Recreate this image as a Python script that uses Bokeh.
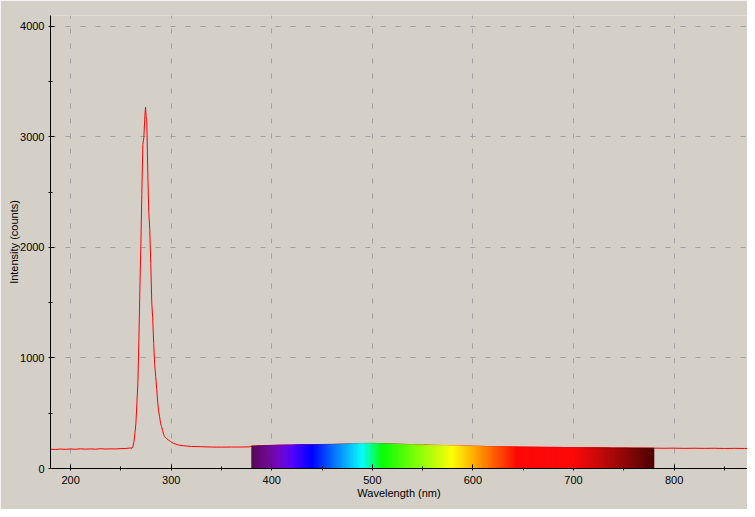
import numpy as np
from bokeh.plotting import figure
from bokeh.models import Range1d, SingleIntervalTicker, ColumnDataSource
from bokeh.embed import file_html
from bokeh.resources import INLINE

# ---- data ----
wavelength = [180, 185, 190, 195, 200, 205, 210, 215, 220, 225, 230, 235, 240, 245, 250, 255, 258, 260,
              261.0, 262.0, 263.0, 263.9, 264.9, 265.9, 266.9, 267.9, 268.9, 269.8, 270.8, 271.8, 272.8,
              273.8, 274.5, 275.2, 275.7, 276.7, 277.7, 278.7, 279.7, 280.7, 281.6, 282.6, 283.6, 284.6,
              285.6, 286.6, 287.5, 288.5, 289.5, 290.5, 291.5, 292.5, 293.4, 295.4, 297.4, 299.3, 302.3,
              307.2, 312.1, 320, 330, 340, 350, 360, 370, 378,
              380, 390, 400, 410, 420, 430, 440, 450, 460, 470, 480, 490, 500, 510, 520, 530, 540, 550,
              560, 570, 580, 590, 600, 610, 620, 630, 640, 650, 660, 670, 680, 690, 700, 710, 720, 730,
              740, 750, 760, 770, 780, 790, 800, 810, 820, 830, 840, 850, 860, 870, 873]
intensity = [174, 172, 176, 173, 177, 174, 178, 175, 177, 175, 179, 176, 178, 177, 180, 181, 184, 186,
             182, 200, 244, 316, 404, 591, 778, 1178, 1640, 2004, 2478, 2930, 2990,
             3180, 3267, 3170, 3156, 2689, 2316, 2164, 1853, 1498, 1364, 1133, 938, 831,
             716, 600, 520, 467, 404, 378, 342, 307, 289, 271, 256, 244, 227,
             212, 206, 199, 197, 194, 193, 194, 194, 196,
             203, 206, 209, 212, 213, 216, 215, 217, 218, 221, 224, 226, 227, 225, 222, 219, 216, 214,
             210, 208, 206, 204, 202, 200, 197, 196, 195, 194, 193, 192, 191, 190, 189, 188, 188, 187,
             186, 186, 185, 185, 184, 183, 184, 182, 183, 182, 183, 181, 182, 181, 181]

band_start = 380
band_end = 780
x_range = (180, 873)
y_range = (0, 4096)
x_label = "Wavelength (nm)"
y_label = "Intensity (counts)"


def wl_color(w):
    if w < 440:
        r, g, b = -(w - 440) / 60.0, 0.0, 1.0
    elif w < 490:
        r, g, b = 0.0, (w - 440) / 50.0, 1.0
    elif w < 510:
        r, g, b = 0.0, 1.0, -(w - 510) / 20.0
    elif w < 580:
        r, g, b = (w - 510) / 70.0, 1.0, 0.0
    elif w < 645:
        r, g, b = 1.0, -(w - 645) / 65.0, 0.0
    else:
        r, g, b = 1.0, 0.0, 0.0
    if w < 420:
        f = 0.3 + 0.7 * (w - 380) / 40.0
    elif w > 700:
        f = 0.3 + 0.7 * (780 - w) / 80.0
    else:
        f = 1.0
    return "#%02x%02x%02x" % tuple(int(round(255 * max(0.0, min(1.0, c * f)))) for c in (r, g, b))


BG = "#D4D0C8"
p = figure(width=747, height=509, output_backend="svg", toolbar_location=None,
           x_range=Range1d(*x_range), y_range=Range1d(*y_range),
           background_fill_color=BG, border_fill_color=BG,
           min_border_left=50, min_border_right=0, min_border_top=15, min_border_bottom=41)
p.outline_line_color = None

src = ColumnDataSource(dict(x=wavelength, y=intensity))
p.line("x", "y", source=src, line_color="#FF0000", line_width=1)

# spectrum fill under the curve
left = np.arange(band_start, band_end, 1.0)
right = left + 1.0
top = np.interp(left + 0.5, wavelength, intensity)
cols = [wl_color(w + 0.5) for w in left]
p.quad(left=left, right=right, bottom=0, top=top, fill_color=cols, line_color=cols, line_width=0.6)

p.xaxis.ticker = SingleIntervalTicker(interval=100, num_minor_ticks=2)
p.yaxis.ticker = SingleIntervalTicker(interval=1000, num_minor_ticks=2)

for ax in (p.xaxis[0], p.yaxis[0]):
    ax.axis_line_color = "black"
    ax.major_tick_line_color = "black"
    ax.minor_tick_line_color = "black"
    ax.major_tick_in = 4
    ax.major_tick_out = 0
    ax.minor_tick_in = 2
    ax.minor_tick_out = 2
    ax.major_label_text_font = "Liberation Sans"
    ax.major_label_text_font_size = "11px"
    ax.major_label_text_color = "black"
    ax.axis_label_text_font = "Liberation Sans"
    ax.axis_label_text_font_size = "11px"
    ax.axis_label_text_font_style = "normal"
    ax.axis_label_text_color = "black"

p.xaxis.axis_label = x_label
p.yaxis.axis_label = y_label
p.xaxis.major_label_standoff = 5
p.yaxis.major_label_standoff = 4
p.xaxis.axis_label_standoff = 0
p.yaxis.axis_label_standoff = -3

for g in (p.xgrid[0], p.ygrid[0]):
    g.grid_line_color = "#A0A0A0"
    g.grid_line_dash = "5 10"
    g.grid_line_width = 1

open("out.html", "w").write(file_html(p, INLINE))
